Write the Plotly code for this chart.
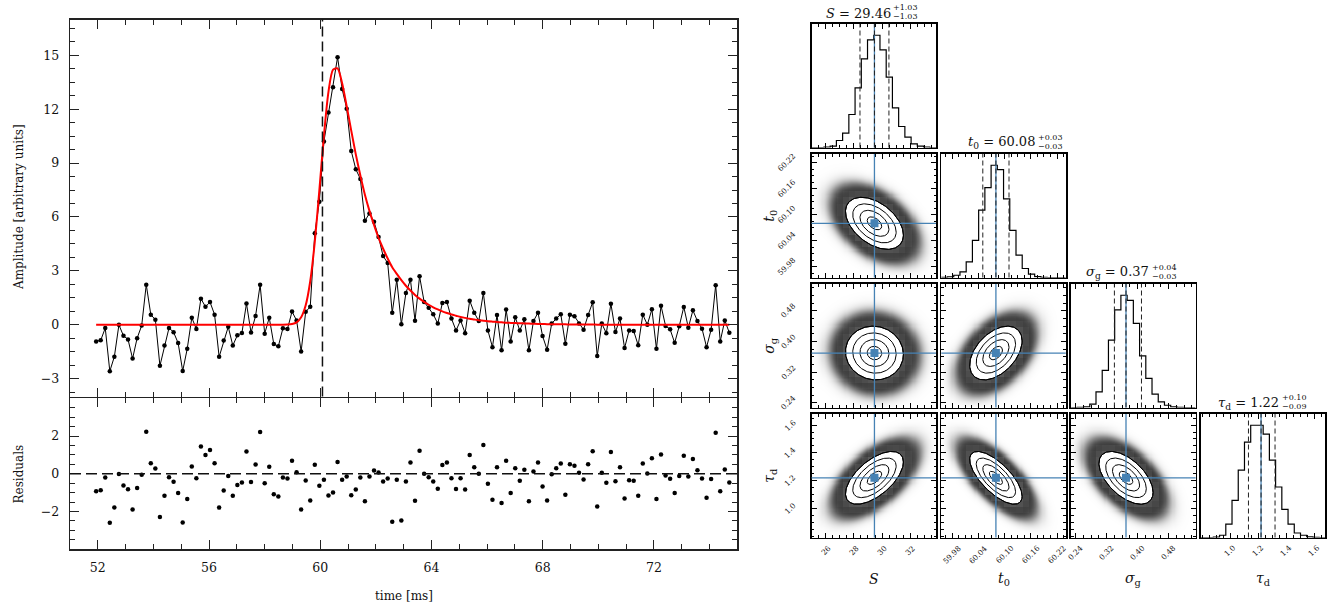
import numpy as np
import plotly.graph_objects as go

W, H = 1337, 605

# ---------------- time-series data ----------------
t_start = 51.94      # ms, first sample
dt = 0.16384         # ms, sampling interval
t0_line = 60.08

amplitude = [
    -0.93, -0.87, -0.19, -2.59, -1.78, -0.01, -0.62, -0.82, -1.89, -0.75,
    -0.05, 2.23, 0.56, 0.28, -2.29, -1.16, -0.18, -0.42, -1.02, -2.58,
    -1.34, 0.39, -0.24, 1.45, 1.00, 1.26, 0.56, -1.79, -0.88, -0.12,
    -1.16, -0.59, -0.46, 1.18, -0.44, 0.49, 2.22, -0.50, 0.39, -1.08,
    -1.20, -0.20, -0.24, 0.73, 0.24, -1.49, 0.72, 1.00, 5.10, 6.85,
    10.20, 11.82, 13.22, 14.90, 13.13, 12.03, 9.68, 8.66, 8.12, 5.79,
    6.20, 5.73, 4.89, 3.82, 3.44, 0.66, 2.51, 0.02, 1.77, 2.51,
    0.22, 2.70, 1.27, 0.95, 0.58, 0.06, 1.21, 1.27, 0.34, -0.32,
    0.24, -0.47, 1.34, 0.67, 0.20, 1.77, -0.32, -1.25, 0.54, -1.43,
    0.84, -0.93, 0.41, -0.32, 0.30, -1.43, 0.20, 0.67, -0.63, -1.40,
    0.06, 0.34, 0.58, -1.06, 0.56, 0.47, 0.06, -0.28, 0.54, 1.25,
    -1.75, 0.06, -0.47, 1.17, -0.41, 0.34, -1.30, -0.32, -0.35, -1.15,
    0.56, 0.00, 0.86, -1.34, 1.06, -0.07, -0.26, -1.01, -0.09, 0.99,
    -0.17, 0.80, 0.20, -0.22, -1.25, -0.28, 2.20, -0.93, 0.24, -0.45]

model = [
    0.00, 0.00, 0.00, 0.00, 0.00, 0.00, 0.00, 0.00, 0.00, 0.00,
    0.00, 0.00, 0.00, 0.00, 0.00, 0.00, 0.00, 0.00, 0.00, 0.00,
    0.00, 0.00, 0.00, 0.00, 0.00, 0.00, 0.00, 0.00, 0.00, 0.00,
    0.00, 0.00, 0.00, 0.00, 0.00, 0.00, 0.00, 0.00, 0.00, 0.00,
    0.00, 0.00, 0.01, 0.04, 0.13, 0.41, 1.08, 2.42, 4.62, 7.48,
    10.52, 12.97, 14.21, 14.28, 13.45, 12.17, 10.81, 9.49, 8.31, 7.24,
    6.34, 5.55, 4.83, 4.23, 3.69, 3.20, 2.83, 2.48, 2.17, 1.90,
    1.66, 1.45, 1.27, 1.11, 0.97, 0.85, 0.74, 0.65, 0.57, 0.50,
    0.43, 0.38, 0.33, 0.29, 0.25, 0.22, 0.19, 0.17, 0.15, 0.13,
    0.11, 0.10, 0.09, 0.08, 0.07, 0.06, 0.05, 0.04, 0.04, 0.03,
    0.03, 0.02, 0.02, 0.02, 0.01, 0.01, 0.01, 0.01, 0.01, 0.01,
    0.00, 0.00, 0.00, 0.00, 0.00, 0.00, 0.00, 0.00, 0.00, 0.00,
    0.00, 0.00, 0.00, 0.00, 0.00, 0.00, 0.00, 0.00, 0.00, 0.00,
    0.00, 0.00, 0.00, 0.00, 0.00, 0.00, 0.00, 0.00, 0.00, 0.00]

residuals = [
    -0.93, -0.87, -0.19, -2.59, -1.78, -0.01, -0.62, -0.82, -1.89, -0.75,
    -0.05, 2.23, 0.56, 0.28, -2.29, -1.16, -0.18, -0.42, -1.02, -2.58,
    -1.34, 0.39, -0.24, 1.45, 1.00, 1.26, 0.56, -1.79, -0.88, -0.12,
    -1.16, -0.59, -0.46, 1.18, -0.44, 0.49, 2.22, -0.50, 0.38, -1.08,
    -1.20, -0.20, -0.25, 0.69, 0.08, -1.89, -0.36, -1.42, 0.48, -0.63,
    -0.32, -1.15, -0.99, 0.62, -0.32, -0.14, -1.13, -0.83, -0.19, -1.45,
    -0.14, 0.18, 0.07, -0.41, -0.25, -2.54, -0.32, -2.47, -0.41, 0.60,
    -1.43, 1.22, 0.00, -0.18, -0.41, -0.79, 0.46, 0.60, -0.23, -0.81,
    -0.23, -0.83, 0.99, 0.35, 0.00, 1.53, -0.53, -1.38, 0.35, -1.55,
    0.69, -1.02, 0.30, -0.37, 0.21, -1.46, 0.12, 0.60, -0.67, -1.41,
    -0.02, 0.30, 0.55, -1.11, 0.51, 0.42, 0.05, -0.30, 0.51, 1.20,
    -1.73, 0.05, -0.48, 1.15, -0.39, 0.35, -1.31, -0.34, -0.37, -1.16,
    0.55, 0.02, 0.83, -1.34, 1.02, -0.09, -0.26, -1.02, -0.12, 0.95,
    -0.14, 0.78, 0.19, -0.25, -1.27, -0.28, 2.17, -0.92, 0.23, -0.46]

main_xticks = [52, 56, 60, 64, 68, 72]
main_yticks = [-3, 0, 3, 6, 9, 12, 15]
resid_yticks = [-2, 0, 2]

# ---------------- corner-plot data ----------------
param_labels = ["<i>S</i>", "<i>t</i><sub>0</sub>", "<i>σ</i><sub>g</sub>", "<i>τ</i><sub>d</sub>"]
medians = [29.46, 60.08, 0.37, 1.22]
err_lo = [1.03, 0.03, 0.03, 0.09]
err_hi = [1.03, 0.03, 0.04, 0.10]
med_text = ["29.46", "60.08", "0.37", "1.22"]
lo_text = ["−1.03", "−0.03", "−0.03", "−0.09"]
hi_text = ["+1.03", "+0.03", "+0.04", "+0.10"]
ranges = [[24.98, 33.84], [59.955, 60.24], [0.228, 0.55], [0.79, 1.68]]
tickvals = [[26, 28, 30, 32], [59.98, 60.04, 60.10, 60.16, 60.22],
            [0.24, 0.32, 0.40, 0.48], [1.0, 1.2, 1.4, 1.6]]
ticktext = [["26", "28", "30", "32"], ["59.98", "60.04", "60.10", "60.16", "60.22"],
            ["0.24", "0.32", "0.40", "0.48"], ["1.0", "1.2", "1.4", "1.6"]]
minor_step = [0.5, 0.015, 0.02, 0.05]

hist_S = [0, 0, 1, 4, 21, 43, 99, 179, 266, 323, 337, 293, 211, 119, 63, 31, 11, 4, 1, 0]
hist_t0 = [0.2, 0.5, 2, 5, 14, 33, 60, 80, 100, 96, 70, 42, 20, 8, 3, 0.8, 0.2, 0, 0, 0]
hist_sg = [0, 0.1, 0.6, 3, 14, 33, 60, 87, 100, 95.5, 75, 46, 26, 12, 5, 2, 0.5, 0.1, 0, 0]
hist_td = [0, 0, 0.3, 2, 12, 33, 60, 85, 100, 100, 92, 69, 45, 25, 12, 4, 2, 0.5, 0.1, 0]
hists = [hist_S, hist_t0, hist_sg, hist_td]

# correlation (x = column parameter, y = row parameter), read from ellipse tilts
corr = {(1, 0): -0.45, (2, 0): -0.05, (2, 1): 0.45,
        (3, 0): 0.60, (3, 1): -0.70, (3, 2): -0.55}

# ---------------- layout helpers (page pixel -> paper fraction) ----------------
def fx(px):
    return px / W

def fy(py):
    return 1 - py / H

FONT = "DejaVu Serif"
BLUE = "#4682b4"

def ann(text, x, y, xref="paper", yref="paper", size=12, angle=0, xa="center", ya="middle", **kw):
    d = dict(text=text, x=x, y=y, xref=xref, yref=yref, xanchor=xa, yanchor=ya,
             textangle=angle, showarrow=False, borderpad=0,
             font=dict(family=FONT, size=size, color="#111"))
    d.update(kw)
    return d

fig = go.Figure()
layout = dict(width=W, height=H, margin=dict(l=0, r=0, t=0, b=0),
              paper_bgcolor="white", plot_bgcolor="white", showlegend=False,
              font=dict(family=FONT, size=12, color="#111"))
shapes = []
annotations = []

time = t_start + dt * np.arange(len(amplitude))

main_ax = dict(showline=True, linecolor="#222", linewidth=1.3, mirror="ticks",
               ticks="inside", ticklen=9, tickwidth=1, tickcolor="#222",
               showgrid=False, zeroline=False,
               tickfont=dict(family=FONT, size=12.5, color="#111"))

MX0, MX1 = 70, 737.3
layout["xaxis"] = dict(main_ax, domain=[fx(MX0), fx(MX1)], range=[51, 75], anchor="y",
                       tickmode="array", tickvals=main_xticks, showticklabels=False,
                       minor=dict(ticks="inside", ticklen=5, tickcolor="#222", tickmode="linear", tick0=52, dtick=1))
layout["yaxis"] = dict(main_ax, domain=[fy(396.5), fy(19.5)], range=[-4, 17], anchor="x",
                       tickmode="array", tickvals=main_yticks, ticklabelstandoff=7,
                       minor=dict(ticks="inside", ticklen=5, tickcolor="#222", tickmode="linear", tick0=-3, dtick=0.75))
layout["xaxis2"] = dict(main_ax, domain=[fx(MX0), fx(MX1)], range=[51, 75], anchor="y2",
                        tickmode="array", tickvals=main_xticks, ticklabelstandoff=6,
                        minor=dict(ticks="inside", ticklen=5, tickcolor="#222", tickmode="linear", tick0=52, dtick=1))
layout["yaxis2"] = dict(main_ax, domain=[fy(549.3), fy(398.3)], range=[-4, 4], anchor="x2",
                        tickmode="array", tickvals=resid_yticks, ticklabelstandoff=7,
                        minor=dict(ticks="inside", ticklen=5, tickcolor="#222", tickmode="linear", tick0=-2, dtick=0.5))

fig.add_trace(go.Scatter(x=time, y=amplitude, mode="lines+markers", xaxis="x", yaxis="y",
                         line=dict(color="black", width=1), marker=dict(color="black", size=4.5),
                         hoverinfo="skip"))
fig.add_trace(go.Scatter(x=time, y=model, mode="lines", xaxis="x", yaxis="y",
                         line=dict(color="#ff0000", width=2, shape="spline", smoothing=0.7),
                         hoverinfo="skip"))
fig.add_trace(go.Scatter(x=time, y=residuals, mode="markers", xaxis="x2", yaxis="y2",
                         marker=dict(color="black", size=4.5), hoverinfo="skip"))

shapes.append(dict(type="line", xref="x", yref="y domain", x0=t0_line, x1=t0_line, y0=0, y1=1,
                   line=dict(color="#111", width=1.5, dash="10px,5px")))
shapes.append(dict(type="line", xref="x2 domain", yref="y2", x0=0, x1=1, y0=0, y1=0,
                   line=dict(color="#111", width=1.5, dash="11px,5px")))

annotations.append(ann("Amplitude [arbitrary units]", fx(18.5), fy(207.5), angle=-90))
annotations.append(ann("Residuals", fx(18.5), fy(474), angle=-90))
annotations.append(ann("time [ms]", fx(403.5), fy(596)))

# ---------------- corner plot ----------------
col_x0 = [811.5, 941.3, 1071.1, 1200.9]
row_y0 = [24, 154, 284, 414]
PW, PH = 124.5, 123.5
title_split = [892, 1036, 1150, 1280]

corner_ax = dict(showline=True, linecolor="black", linewidth=1.8, showgrid=False, zeroline=False,
                 showticklabels=False)

def ticked(c, rng):
    return dict(corner_ax, range=rng, tickmode="array", tickvals=tickvals[c], mirror="ticks",
                ticks="inside", ticklen=5, tickwidth=1, tickcolor="black",
                minor=dict(ticks="inside", ticklen=2.5, tickwidth=1, tickcolor="black",
                           tickmode="linear", tick0=tickvals[c][0], dtick=minor_step[c]))

density_scale = [[0, "rgba(255,255,255,0)"], [0.3, "rgba(175,175,175,0.4)"],
                 [0.6, "rgba(95,95,95,0.75)"], [1, "rgba(0,0,0,1)"]]
k = 3
for r in range(4):
    for c in range(r + 1):
        xn, yn = f"x{k}", f"y{k}"
        x0p = col_x0[c]
        y0p = row_y0[r]
        xa = ticked(c, ranges[c])
        xa.update(domain=[fx(x0p), fx(x0p + PW)], anchor=yn)
        if r == c:
            h = np.array(hists[c], dtype=float)
            ya = dict(corner_ax, range=[0, 1.1 * h.max()], mirror=True, ticks="",
                      domain=[fy(y0p + PH), fy(y0p)], anchor=xn)
            edges = np.linspace(ranges[c][0], ranges[c][1], len(h) + 1)
            hx = np.concatenate([[edges[0]], edges])
            hy = np.concatenate([[0], h, [0]])
            fig.add_trace(go.Scatter(x=hx, y=hy, mode="lines", xaxis=xn, yaxis=yn,
                                     line=dict(color="black", width=1.2, shape="hv"), hoverinfo="skip"))
            shapes.append(dict(type="line", xref=xn, yref=f"{yn} domain", x0=medians[c], x1=medians[c],
                               y0=0, y1=1, line=dict(color=BLUE, width=1.3)))
            for q in (medians[c] - err_lo[c], medians[c], medians[c] + err_hi[c]):
                shapes.append(dict(type="line", xref=xn, yref=f"{yn} domain", x0=q, x1=q, y0=0, y1=1,
                                   line=dict(color="#222", width=1, dash="5px,3px")))
            # title  "name = value" with stacked +err / -err
            cy = y0p - 11
            sx_ = title_split[c]
            annotations.append(ann(f"{param_labels[c]} = {med_text[c]}", fx(sx_), fy(cy), size=13, xa="right"))
            annotations.append(ann(hi_text[c], fx(sx_ + 0.5), fy(cy - 5.5), size=8, xa="left"))
            annotations.append(ann(lo_text[c], fx(sx_ + 0.5), fy(cy + 3.5), size=8, xa="left"))
        else:
            ya = ticked(r, ranges[r])
            ya.update(domain=[fy(y0p + PH), fy(y0p)], anchor=xn)
            mx, my = medians[c], medians[r]
            sx = 0.5 * (err_lo[c] + err_hi[c])
            sy = 0.5 * (err_lo[r] + err_hi[r])
            rho = corr[(r, c)]
            # sample cloud rendered as a density shade
            gx = np.linspace(ranges[c][0], ranges[c][1], 120)
            gy = np.linspace(ranges[r][0], ranges[r][1], 120)
            GX, GY = np.meshgrid(gx, gy)
            dx = (GX - mx) / sx
            dy = (GY - my) / sy
            m2 = (dx ** 2 - 2 * rho * dx * dy + dy ** 2) / (1 - rho ** 2)
            rel = np.exp(-0.5 * m2)
            cloud = 1 - np.exp(-110 * rel)
            fig.add_trace(go.Heatmap(x=gx, y=gy, z=cloud, xaxis=xn, yaxis=yn, zmin=0, zmax=1,
                                     colorscale=[[0, "rgb(255,255,255)"], [0.5, "rgb(150,150,150)"],
                                                 [1, "rgb(55,55,55)"]],
                                     zsmooth="best", showscale=False, hoverinfo="skip"))
            th = np.linspace(0, 2 * np.pi, 160)

            def ell(kk):
                ex = mx + sx * kk * np.cos(th)
                ey = my + sy * kk * (rho * np.cos(th) + np.sqrt(1 - rho ** 2) * np.sin(th))
                return ex, ey
            ex, ey = ell(2.0)
            fig.add_trace(go.Scatter(x=ex, y=ey, mode="lines", fill="toself", fillcolor="white",
                                     line=dict(color="black", width=1), xaxis=xn, yaxis=yn, hoverinfo="skip"))
            # binned density (20 x 20)
            bx = np.linspace(ranges[c][0], ranges[c][1], 21)
            by = np.linspace(ranges[r][0], ranges[r][1], 21)
            cx = 0.5 * (bx[1:] + bx[:-1])
            cyv = 0.5 * (by[1:] + by[:-1])
            CX, CY = np.meshgrid(cx, cyv)
            ddx = (CX - mx) / sx
            ddy = (CY - my) / sy
            bm2 = (ddx ** 2 - 2 * rho * ddx * ddy + ddy ** 2) / (1 - rho ** 2)
            dens = np.exp(-0.5 * bm2)
            fig.add_trace(go.Heatmap(x=cx, y=cyv, z=dens, xaxis=xn, yaxis=yn, zmin=0, zmax=1,
                                     colorscale=density_scale,
                                     zsmooth=False, showscale=False, hoverinfo="skip"))
            for kk in (0.5, 1.0, 1.5, 2.0):
                ex, ey = ell(kk)
                fig.add_trace(go.Scatter(x=ex, y=ey, mode="lines", line=dict(color="black", width=1),
                                         xaxis=xn, yaxis=yn, hoverinfo="skip"))
            fig.add_trace(go.Scatter(x=[mx], y=[my], mode="markers", xaxis=xn, yaxis=yn,
                                     marker=dict(symbol="square", size=8, color=BLUE), hoverinfo="skip"))
            shapes.append(dict(type="line", xref=xn, yref=f"{yn} domain", x0=mx, x1=mx, y0=0, y1=1,
                               line=dict(color=BLUE, width=1.3)))
            shapes.append(dict(type="line", xref=f"{xn} domain", yref=yn, x0=0, x1=1, y0=my, y1=my,
                               line=dict(color=BLUE, width=1.3)))
            if c == 0:
                for tv, tt in zip(tickvals[r], ticktext[r]):
                    annotations.append(ann(tt, fx(799), tv, yref=yn, size=7.5, angle=-45, xa="right"))
        if r == 3:
            for tv, tt in zip(tickvals[c], ticktext[c]):
                annotations.append(ann(tt, tv, fy(542), xref=xn, size=7.5, angle=-45, ya="top"))
        layout[f"xaxis{k}"] = xa
        layout[f"yaxis{k}"] = ya
        k += 1

# corner axis titles
for c in range(4):
    annotations.append(ann(param_labels[c], fx(col_x0[c] + PW / 2), fy(579), size=14))
for r in range(1, 4):
    annotations.append(ann(param_labels[r], fx(770), fy(row_y0[r] + PH / 2), size=14, angle=-90))

layout["shapes"] = shapes
layout["annotations"] = annotations
fig.update_layout(**layout)
fig.write_html("out.html", config={"displayModeBar": False, "staticPlot": True},
               post_script="document.body.style.margin='0px';")
